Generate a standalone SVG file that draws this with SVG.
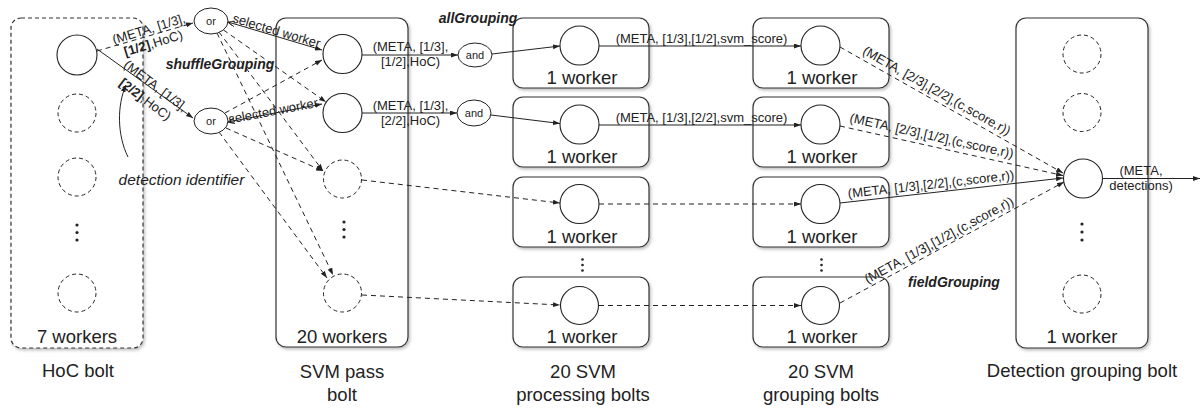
<svg xmlns="http://www.w3.org/2000/svg" width="1204" height="410" viewBox="0 0 1204 410">
<defs>
<style>
.box{fill:#fff;stroke:#333;stroke-width:1.2}
.dbox{fill:#fff;stroke:#333;stroke-width:1.2;stroke-dasharray:4 3}
.c{fill:#fff;stroke:#222;stroke-width:1.1}
.dc{fill:#fff;stroke:#222;stroke-width:1;stroke-dasharray:4 3}
.op{fill:#fff;stroke:#222;stroke-width:1}
.ln{fill:none;stroke:#222;stroke-width:1;marker-end:url(#ah)}
.dl{stroke-dasharray:5 4}
.dot{fill:#222}
text{font-family:"Liberation Sans",Arial,Helvetica,sans-serif;fill:#222}
.big{font-size:18.5px;text-anchor:middle}
.sm{font-size:13px;text-anchor:middle}
.tiny{font-size:11px;text-anchor:middle}
.bi{font-size:14px;font-weight:bold;font-style:italic;text-anchor:middle}
.it{font-size:15.5px;font-style:italic;text-anchor:middle}
.b{font-weight:bold}
</style>
<marker id="ah" markerUnits="userSpaceOnUse" markerWidth="8" markerHeight="6" refX="7" refY="2.5" orient="auto"><path d="M0,0 L7,2.5 L0,5 z" fill="#222"/></marker>
<marker id="oa" markerUnits="userSpaceOnUse" markerWidth="8" markerHeight="8" refX="7" refY="3" orient="auto-start-reverse"><path d="M0,0 L7,3 L0,6" fill="none" stroke="#222" stroke-width="1"/></marker>
<filter id="sh" x="-10%" y="-10%" width="125%" height="125%"><feDropShadow dx="1.5" dy="2" stdDeviation="1.5" flood-color="#000" flood-opacity="0.25"/></filter>
</defs>

<!-- containers -->
<g id="hoc-bolt">
<rect class="dbox" x="11" y="18" width="132" height="330" rx="10" filter="url(#sh)"/>
<text class="big" x="77" y="343">7 workers</text>
<text class="big" x="78" y="377">HoC bolt</text>
</g>
<g id="svm-pass-bolt">
<rect class="box" x="276" y="18" width="132" height="329" rx="10" filter="url(#sh)"/>
<text class="big" x="342" y="343">20 workers</text>
<text class="big" x="342" y="378">SVM pass</text>
<text class="big" x="342" y="401">bolt</text>
</g>
<g id="svm-proc-bolts">
<rect class="box" x="513" y="18" width="136" height="70" rx="10" filter="url(#sh)"/>
<rect class="box" x="513" y="97" width="136" height="70" rx="10" filter="url(#sh)"/>
<rect class="box" x="513" y="177" width="136" height="70" rx="10" filter="url(#sh)"/>
<rect class="box" x="513" y="277" width="136" height="70" rx="10" filter="url(#sh)"/>
<text class="big" x="582" y="83.5">1 worker</text>
<text class="big" x="582" y="162.5">1 worker</text>
<text class="big" x="582" y="242.5">1 worker</text>
<text class="big" x="582" y="342.5">1 worker</text>
<circle class="dot" cx="582.5" cy="259.5" r="1.3"/><circle class="dot" cx="582.5" cy="265" r="1.3"/><circle class="dot" cx="582.5" cy="270.5" r="1.3"/>
<text class="big" x="583" y="378">20 SVM</text>
<text class="big" x="583" y="401">processing bolts</text>
</g>
<g id="svm-group-bolts">
<rect class="box" x="753" y="18" width="136" height="70" rx="10" filter="url(#sh)"/>
<rect class="box" x="753" y="97" width="136" height="70" rx="10" filter="url(#sh)"/>
<rect class="box" x="753" y="177" width="136" height="70" rx="10" filter="url(#sh)"/>
<rect class="box" x="753" y="277" width="136" height="70" rx="10" filter="url(#sh)"/>
<text class="big" x="822" y="83.5">1 worker</text>
<text class="big" x="822" y="162.5">1 worker</text>
<text class="big" x="822" y="242.5">1 worker</text>
<text class="big" x="822" y="342.5">1 worker</text>
<circle class="dot" cx="821.5" cy="259.5" r="1.3"/><circle class="dot" cx="821.5" cy="265" r="1.3"/><circle class="dot" cx="821.5" cy="270.5" r="1.3"/>
<text class="big" x="821" y="378">20 SVM</text>
<text class="big" x="821" y="401">grouping bolts</text>
</g>
<g id="detection-bolt">
<rect class="box" x="1016" y="18" width="132" height="330" rx="10" filter="url(#sh)"/>
<text class="big" x="1082" y="343">1 worker</text>
<text class="big" x="1082" y="377">Detection grouping bolt</text>
</g>

<!-- connectors -->
<g id="connectors">
<path class="ln dl" d="M97,51 L193,23"/>
<path class="ln" d="M97,49 L193,118"/>
<path class="ln" d="M228,22 L322,50" marker-start="url(#oa)"/>
<path class="ln" d="M228,122 L322,104" marker-start="url(#oa)"/>
<path class="ln dl" d="M223.5,30 L326,102"/>
<path class="ln dl" d="M219,32 L323,171"/>
<path class="ln dl" d="M217,33 L333,275"/>
<path class="ln dl" d="M225,113 L322,60"/>
<path class="ln dl" d="M226,128 L323,171"/>
<path class="ln dl" d="M219,132 L327,278"/>
<path class="ln" d="M362,55 L458,55"/>
<path class="ln" d="M362,113 L457,113"/>
<path class="ln" d="M492,54 L560,46"/>
<path class="ln" d="M491,115 L560,123.5"/>
<path class="ln dl" d="M362,180 L560,203"/>
<path class="ln dl" d="M362,295 L560,305"/>
<path class="ln" d="M599,46 L801,46"/>
<path class="ln" d="M599,125 L801,125"/>
<path class="ln dl" d="M599,204 L801,204"/>
<path class="ln dl" d="M599,305.5 L801,305.5"/>
<path class="ln dl" d="M840,47 L1063,173"/>
<path class="ln dl" d="M840,126 L1063,175.5"/>
<path class="ln" d="M840,203 L1063,178"/>
<path class="ln dl" d="M840,303 L1064,182"/>
<path class="ln" d="M1102.5,178.5 L1200,178.5"/>
<path class="ln" d="M128,157 C117,135 117,105 126,85"/>

<text class="sm" transform="translate(151,36) rotate(-17)"><tspan x="0" y="-3">(META, [1/3],</tspan><tspan x="0" y="12"><tspan class="b">[1/2]</tspan>,HoC)</tspan></text>
<text class="sm" transform="translate(150.5,92.5) rotate(37)"><tspan x="0" y="-4">(META, [1/3],</tspan><tspan x="0" y="13"><tspan class="b">[2/2]</tspan>,HoC)</tspan></text>
<text class="sm" transform="translate(275.3,35) rotate(16.6)">selected worker</text>
<text class="sm" transform="translate(274,115.3) rotate(-10.8)">selected worker</text>
<text class="sm" x="410.5" y="51">(META, [1/3],</text>
<text class="sm" x="410.5" y="66">[1/2],HoC)</text>
<text class="sm" x="410.5" y="109.5">(META, [1/3],</text>
<text class="sm" x="410.5" y="124.5">[2/2],HoC)</text>
<text class="sm" x="701.5" y="42.5">(META, [1/3],[1/2],svm_score)</text>
<text class="sm" x="701.5" y="121.5">(META, [1/3],[2/2],svm_score)</text>
<text class="sm" transform="translate(934.6,94.6) rotate(29.46)">(META, [2/3],[2/2],(c,score,r))</text>
<text class="sm" transform="translate(930.8,140) rotate(12.5)">(META, [2/3],[1/2],(c,score,r))</text>
<text class="sm" transform="translate(931.5,188.7) rotate(-6.4)">(META, [1/3],[2/2],(c,score,r))</text>
<text class="sm" transform="translate(941.1,243.9) rotate(-28.4)">(META, [1/3],[1/2],(c,score,r))</text>
<text class="sm" x="1141" y="175">(META,</text>
<text class="sm" x="1141" y="190">detections)</text>
<text class="bi" x="220" y="69">shuffleGrouping</text>
<text class="bi" x="478" y="22.5">allGrouping</text>
<text class="bi" x="954" y="287">fieldGrouping</text>
<text class="it" x="181.5" y="185">detection identifier</text>
</g>

<!-- worker nodes -->
<g id="hoc-workers">
<circle class="c" cx="77" cy="55" r="20"/>
<circle class="dc" cx="77" cy="113" r="19"/>
<circle class="dc" cx="77" cy="177" r="19"/>
<circle class="dot" cx="77" cy="225" r="1.6"/><circle class="dot" cx="77" cy="232.5" r="1.6"/><circle class="dot" cx="77" cy="240" r="1.6"/>
<circle class="dc" cx="77" cy="293" r="19"/>
</g>
<g id="or-1"><ellipse class="op" cx="211" cy="21" rx="17" ry="13"/><text class="tiny" x="211" y="25">or</text></g>
<g id="or-2"><ellipse class="op" cx="211" cy="121" rx="17" ry="13"/><text class="tiny" x="211" y="125">or</text></g>
<g id="svm-pass-workers">
<circle class="c" cx="342.5" cy="54" r="19.5"/>
<circle class="c" cx="342.5" cy="113" r="19.5"/>
<circle class="dc" cx="342.5" cy="179" r="19"/>
<circle class="dot" cx="344" cy="222" r="1.6"/><circle class="dot" cx="344" cy="229.5" r="1.6"/><circle class="dot" cx="344" cy="237" r="1.6"/>
<circle class="dc" cx="342.5" cy="293" r="19"/>
</g>
<g id="and-1"><ellipse class="op" cx="475" cy="55" rx="17" ry="12"/><text class="tiny" x="475" y="59">and</text></g>
<g id="and-2"><ellipse class="op" cx="474" cy="113" rx="17" ry="13"/><text class="tiny" x="474" y="117">and</text></g>
<g id="proc-workers">
<circle class="c" cx="579.5" cy="45.5" r="19.5"/>
<circle class="c" cx="579.5" cy="124.5" r="19.5"/>
<circle class="c" cx="579.5" cy="204" r="19.5"/>
<circle class="c" cx="579.5" cy="305.5" r="19"/>
</g>
<g id="group-workers">
<circle class="c" cx="820.5" cy="45.5" r="19.5"/>
<circle class="c" cx="820.5" cy="124.5" r="19.5"/>
<circle class="c" cx="820.5" cy="204" r="19.5"/>
<circle class="c" cx="820.5" cy="305.5" r="19"/>
</g>
<g id="detection-workers">
<circle class="dc" cx="1082" cy="54" r="19"/>
<circle class="dc" cx="1082" cy="112.5" r="19"/>
<circle class="c" cx="1083" cy="178.5" r="19.5"/>
<circle class="dot" cx="1082" cy="224" r="1.6"/><circle class="dot" cx="1082" cy="232" r="1.6"/><circle class="dot" cx="1082" cy="240" r="1.6"/>
<circle class="dc" cx="1082" cy="294" r="19"/>
</g>
</svg>
